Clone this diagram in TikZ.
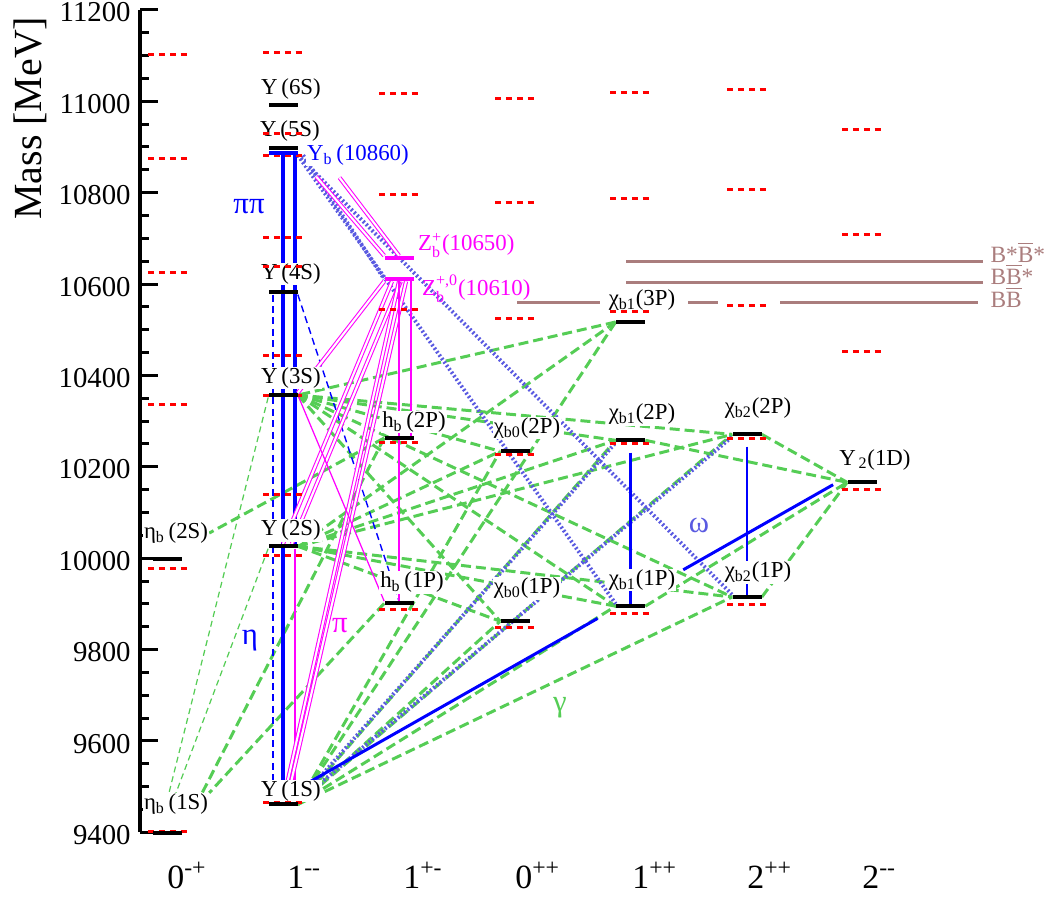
\documentclass[tikz,border=0pt]{standalone}
\usepackage{amsmath}
\usepackage{fontspec}
\setmainfont{Liberation Serif}
\usetikzlibrary{backgrounds, calc}

\definecolor{gamcol}{RGB}{85,205,85}
\definecolor{omgcol}{RGB}{90,90,225}
\definecolor{thrcol}{RGB}{170,125,125}
\definecolor{pimag}{RGB}{255,0,255}

\pgfdeclarelayer{front}
\pgfsetlayers{background,main,front}

\tikzset{
  lvl/.style={fill=black, minimum width=0.58cm, minimum height=0.08cm, inner sep=0pt},
  pred/.style={red, line width=1.7pt, dash pattern=on 3.4pt off 2.8pt},
  eone/.style={gamcol, line width=1.7pt, dash pattern=on 5.7pt off 2.8pt},
  mone/.style={gamcol, line width=0.7pt, dash pattern=on 3.4pt off 2.3pt},
  pipi/.style={blue, line width=2.2pt},
  etaline/.style={blue, line width=0.8pt, dash pattern=on 4pt off 2.5pt},
  pion/.style={pimag, line width=0.7pt},
  pionpair/.style={pimag, line width=0.6pt, double=white, double distance=1.2pt},
  omega/.style={omgcol, line width=2.2pt, dash pattern=on 1.1pt off 1.3pt},
  lab/.style={fill=white, inner sep=0.5pt, font=\fontsize{13}{15}\selectfont},
  thresh/.style={thrcol, line width=1.7pt},
  thlab/.style={text=thrcol, anchor=west, inner sep=0pt, font=\fontsize{13.3}{15}\selectfont},
  greek/.style={inner sep=0pt, font=\fontsize{17.5}{19}\selectfont},
  jpc/.style={anchor=base west, inner sep=0pt, font=\fontsize{19.3}{21}\selectfont},
}

\begin{document}
\begin{tikzpicture}[x=0.02cm, y=0.009134cm]
\useasboundingbox (0,9255.5) rectangle (1047,11221.8);

% levels
\begin{pgfonlayer}{front}
\node[lvl] (eta1) at (167.5,9399) {};
\node[lvl] (eta2) at (167.5,9999) {};
\node[lvl] (U1) at (283,9461) {};
\node[lvl] (U2) at (283,10026) {};
\node[lvl] (U3) at (283,10357) {};
\node[lvl] (U4) at (283,10582) {};
\node[lvl, fill=blue] (Yb) at (283,10887) {};
\node[lvl] (U5) at (283,10898) {};
\node[lvl] (U6) at (283,10992) {};
\node[lvl, fill=pimag] (Zb1) at (399,10611) {};
\node[lvl, fill=pimag] (Zb2) at (399,10657) {};
\node[lvl] (hb1) at (399,9901) {};
\node[lvl] (hb2) at (399,10263) {};
\node[lvl] (c01) at (515,9862) {};
\node[lvl] (c02) at (515,10234) {};
\node[lvl] (c11) at (630.5,9895) {};
\node[lvl] (c12) at (630.5,10258) {};
\node[lvl] (c13) at (630.5,10517) {};
\node[lvl] (c21) at (747,9915) {};
\node[lvl] (c22) at (747,10271) {};
\node[lvl] (Ud) at (862,10166) {};
\end{pgfonlayer}

% axis
\draw[line width=2pt] (140,11200) -- (140,9400);
\foreach \m in {9450,9500,...,11150}
  \draw[line width=1.7pt] (140,\m) -- (149,\m);
\foreach \m in {9400,9600,...,11200} {
  \draw[line width=1.7pt] (140,\m) -- (158,\m);
  \node[anchor=east, inner sep=0pt, yshift=-1.5pt, font=\fontsize{16.4}{18}\selectfont] at (131,\m) {\m};
}
\node[rotate=90, font=\fontsize{22.7}{26}\selectfont] (ylab) at (30,10963) {Mass [MeV]};

% thresholds
\draw[thresh] (626,10650) -- (983,10650) node[thlab] (tBsBs) at (989,10670) {B*\ensuremath{\overline{\text{B}}}*};
\draw[thresh] (626,10604) -- (983,10604) node[thlab] (tBBs) at (989,10622) {B\ensuremath{\overline{\text{B}}}*};
\draw[thresh] (517,10559) -- (600,10559);
\draw[thresh] (688,10559) -- (718,10559);
\draw[thresh] (780,10559) -- (978,10559) node[thlab] (tBB) at (989,10571) {B\ensuremath{\overline{\text{B}}}};

% state labels
\node[lab] (lE1) at (176,9461) {η\textsubscript{b}\,(1S)};
\node[lab] (lE2) at (176,10055) {η\textsubscript{b}\,(2S)};
\node[lab] (lU1) at (291,9490) {Y\,(1S)};
\node[lab] (lU2) at (291,10061) {Y\,(2S)};
\node[lab] (lU3) at (291,10394) {Y\,(3S)};
\node[lab] (lU4) at (291,10622) {Y\,(4S)};
\node[lab] (lU5) at (290,10935) {Y\,(5S)};
\node[lab] (lU6) at (291,11027) {Y\,(6S)};
\node[lab, text=blue, anchor=west] (lYb) at (306,10882) {Y\textsubscript{b}\,(10860)};
\node[lab, fill=none, text=pimag, anchor=west] (lZb2) at (417,10684) {Z\ensuremath{^{\text{+}}_{\text{b}}}(10650)};
\node[lab, fill=none, text=pimag, anchor=west] (lZb1) at (421,10590) {Z\ensuremath{^{\text{+,0}}_{\text{b}}}(10610)};
\node[lab] (lhb2) at (414,10298) {h\textsubscript{b}\,(2P)};
\node[lab] (lhb1) at (412,9947) {h\textsubscript{b}\,(1P)};
\node[lab] (lc02) at (527,10285) {χ\textsubscript{b0}(2P)};
\node[lab] (lc01) at (527,9934) {χ\textsubscript{b0}(1P)};
\node[lab] (lc12) at (642,10315) {χ\textsubscript{b1}(2P)};
\node[lab] (lc11) at (642,9952) {χ\textsubscript{b1}(1P)};
\node[lab] (lc13) at (642,10565) {χ\textsubscript{b1}(3P)};
\node[lab] (lc22) at (758,10328) {χ\textsubscript{b2}(2P)};
\node[lab] (lc21) at (758,9969) {χ\textsubscript{b2}(1P)};
\node[lab] (lUd) at (875,10215) {Y\textsubscript{\,2}(1D)};

% process labels
\node[greek, text=blue] (tPiPi) at (249,10769) {ππ};
\node[greek, text=blue] (tEta) at (250,9820) {η};
\node[greek, text=pimag] (tPi) at (340,9853) {π};
\node[greek, text=omgcol] (tOmega) at (699,10072) {ω};
\node[greek, text=gamcol] (tGamma) at (560,9672) {γ};

% predictions
\foreach \x/\m in {168/11103,168/10874,168/10626,168/10337,168/9978,168/9402,
    283/11106,283/10930,283/10882,283/10701,283/10639,283/10444,283/10357,283/10140,283/10006,283/9466,
    399/11018,399/10795,399/10545,399/10254,399/9888,
    515/11007,515/10779,515/10525,515/10228,515/9849,
    630/11020,630/10788,630/10539,630/10250,630/9880,
    747/11025,747/10808,747/10554,747/10263,747/9899,
    862/10939,862/10709,862/10453,862/10151}
  \draw[pred] ({\x-20},\m) -- ({\x+20},\m);

% transitions
\begin{scope}[on background layer]
\foreach \c in {c02,c12,c22,c01,c11,c21} {
  \draw[eone] (U3.east) -- (\c.west);
  \draw[eone] (U2.east) -- (\c.west);
}
\foreach \c in {c02,c12,c22,c01,c11,c21,c13}
  \draw[eone] (U1.east) -- (\c.west);
\draw[eone] (c13.west) -- (U3.east);
\draw[eone] (c13.west) -- (U2.east);
\foreach \c in {c12,c22,c11,c21}
  \draw[eone] (\c.east) -- (Ud.west);
\draw[eone] (hb1.west) -- (lE1.north east);
\draw[eone] (hb2.west) -- ([xshift=-4pt]lE1.north east);
\draw[eone] (hb2.west) -- (lE2.east);
\draw[mone] (U3.south west) -- ([xshift=-4pt]lE1.north);
\draw[mone] (U2.south west) -- (lE1.north);

\draw[omega] (U1.north east) -- (c12.south west);
\draw[omega] (U1.north east) -- (c22.south west);
\draw[omega] (Yb.south east) -- (c11.north west);
\draw[omega] (Yb.south east) -- (c21.north west);
\draw[omega] ([xshift=3pt]Yb.south east) -- (Zb1.west);

\draw[pipi] (Yb.south) -- (U1.north);
\draw[pipi] ([xshift=6.8pt]Yb.south) -- ([xshift=6.8pt]U2.north);
\draw[pion] ([xshift=6.8pt]U2.south) -- ([xshift=6.8pt]U1.north);
\draw[etaline] ([xshift=-5.7pt]U4.south) -- ([xshift=-5.7pt]U1.north);
\draw[etaline] (U4.south east) -- (hb1.north);
\coordinate (dA) at ([yshift=9pt]U1.east);
\coordinate (dB) at ([xshift=-8pt]Ud.south west);
\draw[blue, line width=1.7pt] (dA) -- ($(dA)!0.56!(dB)$);
\draw[blue, line width=1.7pt] ($(dA)!0.72!(dB)$) -- (dB);
\draw[blue, line width=1.4pt] ([yshift=-5.7pt]c12.south) -- (c11.north);
\draw[blue, line width=1.4pt] ([yshift=-5.7pt]c22.south) -- (c21.north);

\draw[pionpair, shorten <=16pt] (Yb.south east) -- (Zb2.north west);
\draw[pionpair, shorten <=16pt] ([xshift=14pt]Yb.south east) -- (Zb2.north);
\draw[pionpair] (Zb1.south west) -- (U3.north east);
\draw[pionpair] ([xshift=-4pt]Zb1.south) -- (U2.north);
\draw[pionpair] ([xshift=1pt]Zb1.south) -- ([xshift=5pt]U2.north);
\draw[pionpair] (Zb1.south) -- (U1.north);
\draw[pionpair] ([xshift=4pt]Zb1.south) -- ([xshift=2pt]U1.north);
\draw[pion] (Zb1.south) -- (hb2.north);
\draw[pion] ([xshift=6.8pt]Zb1.south) -- ([xshift=6.8pt]hb2.north);
\draw[pion] (hb2.south) -- (hb1.north);
\draw[pion] (U3.east) -- (hb1.north west);
\end{scope}

% J^PC
\node[jpc] (j1) at (167,9277) {0\textsuperscript{-+}};
\node[jpc] (j2) at (287,9277) {1\textsuperscript{-{}-}};
\node[jpc] (j3) at (403,9277) {1\textsuperscript{+-}};
\node[jpc] (j4) at (515,9277) {0\textsuperscript{++}};
\node[jpc] (j5) at (632,9277) {1\textsuperscript{++}};
\node[jpc] (j6) at (747,9277) {2\textsuperscript{++}};
\node[jpc] (j7) at (862,9277) {2\textsuperscript{-{}-}};
\end{tikzpicture}
\end{document}
